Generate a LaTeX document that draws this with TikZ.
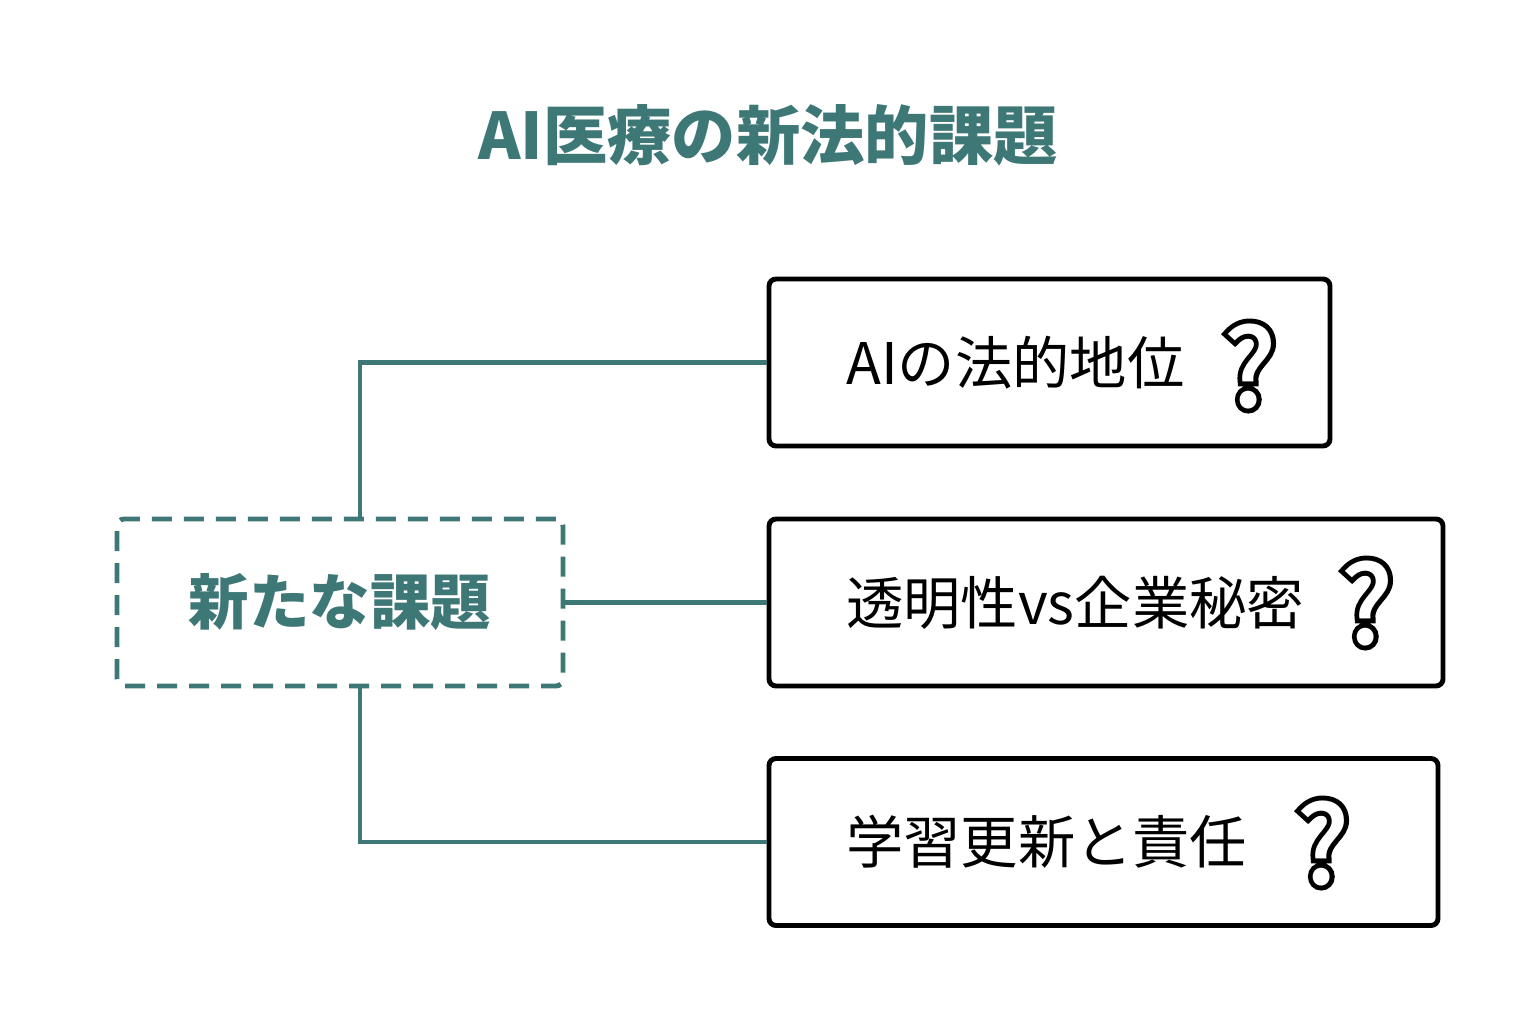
\documentclass[tikz,border=0pt]{standalone}
\usepackage{fontspec}
\newfontfamily\jp{Noto Sans CJK JP}
\newfontfamily\jpqin{Noto Sans CJK JP Medium}
\newfontfamily\jpq[FakeBold=9]{Noto Sans CJK JP Medium}
\usetikzlibrary{positioning, calc}

\definecolor{accent}{RGB}{61,120,118}

% outlined question mark: heavy black glyph with a white one on top
\newcommand{\qmark}{\jpq\color{black}?}
\newcommand{\qfill}{\jpqin\color{white}?}

\begin{document}
\begin{tikzpicture}[
  every node/.style={font=\jp},
  issue/.style={draw, line width=1.4pt, rounded corners=2pt,
    minimum height=1.67cm, inner sep=0pt},
  hub/.style={draw=accent, line width=1.4pt, dashed,
    dash pattern=on 0.2cm off 0.12cm, rounded corners=2pt,
    minimum width=4.46cm, minimum height=1.67cm,
    text=accent, font=\jp\bfseries\fontsize{17.2}{20}\selectfont},
  label/.style={anchor=west, inner sep=0pt,
    font=\jp\fontsize{16.3}{19}\selectfont},
  ask/.style={inner sep=0pt, font=\fontsize{31}{34}\selectfont},
  link/.style={draw=accent, line width=1.2pt},
]
\useasboundingbox[fill=white] (0,0) rectangle (15.36,10.24);

%% title
\node[text=accent, font=\jp\bfseries\fontsize{18.3}{22}\selectfont]
  (title) at (7.68,8.89) {AI医療の新法的課題};

%% central node
\node[hub] (challenge) at (3.40,4.215) {新たな課題};

%% issue boxes
\node[issue, minimum width=5.61cm] (status)  at (10.495,6.615) {};
\node[issue, minimum width=6.74cm] (secret)  at (11.06,4.215) {};
\node[issue, minimum width=6.69cm] (liable)  at (11.035,1.82) {};

\node[label] (statusT) at ([xshift=0.79cm]status.west) {AIの法的地位};
\node[label] (secretT) at ([xshift=0.79cm]secret.west) {透明性vs企業秘密};
\node[label] (liableT) at ([xshift=0.79cm]liable.west) {学習更新と責任};

%% question marks
\foreach \nm/\x/\y in {qa/12.50/6.58, qb/13.67/4.21, qc/13.23/1.81}{
  \node[ask] (\nm) at (\x,\y) {\qmark};
  \node[ask] at (\nm) {\qfill};
}

%% connectors
\draw[link] ([xshift=2mm]challenge.north) |- (status.west);
\draw[link] (challenge.east) -- (secret.west);
\draw[link] ([xshift=2mm]challenge.south) |- (liable.west);

\end{tikzpicture}
\end{document}
